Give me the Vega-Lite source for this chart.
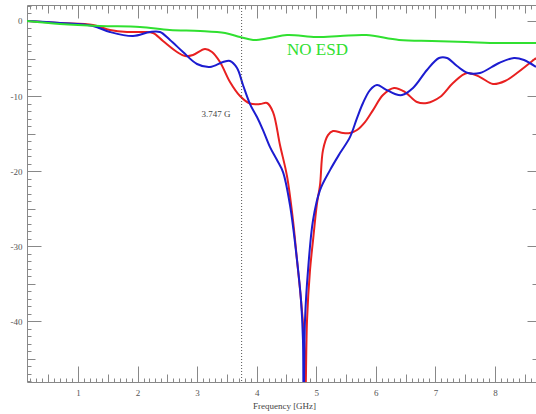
{
  "$schema": "https://vega.github.io/schema/vega-lite/v6.json",
  "width": 509,
  "height": 377,
  "autosize": {"type": "none"},
  "padding": {"left": 27, "top": 5, "right": 0, "bottom": 32},
  "background": "white",
  "datasets": {
    "curves": [
      {"series": "ESD 1", "freq": 0.144, "db": 0},
      {"series": "ESD 1", "freq": 0.698, "db": -0.27},
      {"series": "ESD 1", "freq": 1.252, "db": -0.53},
      {"series": "ESD 1", "freq": 1.538, "db": -1.2},
      {"series": "ESD 1", "freq": 1.823, "db": -1.47},
      {"series": "ESD 1", "freq": 2.092, "db": -1.47},
      {"series": "ESD 1", "freq": 2.26, "db": -1.6},
      {"series": "ESD 1", "freq": 2.427, "db": -2.67},
      {"series": "ESD 1", "freq": 2.662, "db": -4.13},
      {"series": "ESD 1", "freq": 2.797, "db": -4.67},
      {"series": "ESD 1", "freq": 2.931, "db": -4.53},
      {"series": "ESD 1", "freq": 3.132, "db": -3.73},
      {"series": "ESD 1", "freq": 3.25, "db": -4.13},
      {"series": "ESD 1", "freq": 3.384, "db": -5.47},
      {"series": "ESD 1", "freq": 3.552, "db": -8.13},
      {"series": "ESD 1", "freq": 3.72, "db": -10.0},
      {"series": "ESD 1", "freq": 3.888, "db": -11.0},
      {"series": "ESD 1", "freq": 4.056, "db": -11.07},
      {"series": "ESD 1", "freq": 4.173, "db": -10.93},
      {"series": "ESD 1", "freq": 4.274, "db": -12.13},
      {"series": "ESD 1", "freq": 4.391, "db": -16.53},
      {"series": "ESD 1", "freq": 4.509, "db": -20.67},
      {"series": "ESD 1", "freq": 4.609, "db": -26.53},
      {"series": "ESD 1", "freq": 4.677, "db": -31.87},
      {"series": "ESD 1", "freq": 4.744, "db": -37.2},
      {"series": "ESD 1", "freq": 4.794, "db": -42.5},
      {"series": "ESD 1", "freq": 4.811, "db": -55},
      {"series": "ESD 1", "freq": 4.845, "db": -39.87},
      {"series": "ESD 1", "freq": 4.895, "db": -33.2},
      {"series": "ESD 1", "freq": 4.946, "db": -29.2},
      {"series": "ESD 1", "freq": 5.013, "db": -24.27},
      {"series": "ESD 1", "freq": 5.063, "db": -21.87},
      {"series": "ESD 1", "freq": 5.113, "db": -17.2},
      {"series": "ESD 1", "freq": 5.197, "db": -15.2},
      {"series": "ESD 1", "freq": 5.281, "db": -14.67},
      {"series": "ESD 1", "freq": 5.449, "db": -14.93},
      {"series": "ESD 1", "freq": 5.566, "db": -14.93},
      {"series": "ESD 1", "freq": 5.684, "db": -14.53},
      {"series": "ESD 1", "freq": 5.818, "db": -13.47},
      {"series": "ESD 1", "freq": 5.953, "db": -11.87},
      {"series": "ESD 1", "freq": 6.12, "db": -9.87},
      {"series": "ESD 1", "freq": 6.305, "db": -8.93},
      {"series": "ESD 1", "freq": 6.49, "db": -9.47},
      {"series": "ESD 1", "freq": 6.691, "db": -10.8},
      {"series": "ESD 1", "freq": 6.859, "db": -10.93},
      {"series": "ESD 1", "freq": 7.077, "db": -10.13},
      {"series": "ESD 1", "freq": 7.296, "db": -8.27},
      {"series": "ESD 1", "freq": 7.531, "db": -6.93},
      {"series": "ESD 1", "freq": 7.749, "db": -7.47},
      {"series": "ESD 1", "freq": 7.967, "db": -8.4},
      {"series": "ESD 1", "freq": 8.169, "db": -8.0},
      {"series": "ESD 1", "freq": 8.37, "db": -6.93},
      {"series": "ESD 1", "freq": 8.689, "db": -4.93},
      {"series": "ESD 2", "freq": 0.144, "db": 0},
      {"series": "ESD 2", "freq": 0.698, "db": -0.27},
      {"series": "ESD 2", "freq": 1.252, "db": -0.67},
      {"series": "ESD 2", "freq": 1.538, "db": -1.47},
      {"series": "ESD 2", "freq": 1.924, "db": -2.0},
      {"series": "ESD 2", "freq": 2.209, "db": -1.47},
      {"series": "ESD 2", "freq": 2.377, "db": -1.47},
      {"series": "ESD 2", "freq": 2.545, "db": -2.53},
      {"series": "ESD 2", "freq": 2.763, "db": -4.13},
      {"series": "ESD 2", "freq": 2.998, "db": -5.73},
      {"series": "ESD 2", "freq": 3.216, "db": -6.13},
      {"series": "ESD 2", "freq": 3.435, "db": -5.47},
      {"series": "ESD 2", "freq": 3.552, "db": -5.33},
      {"series": "ESD 2", "freq": 3.67, "db": -6.27},
      {"series": "ESD 2", "freq": 3.77, "db": -8.53},
      {"series": "ESD 2", "freq": 3.888, "db": -11.07},
      {"series": "ESD 2", "freq": 4.005, "db": -12.8},
      {"series": "ESD 2", "freq": 4.106, "db": -14.53},
      {"series": "ESD 2", "freq": 4.224, "db": -16.8},
      {"series": "ESD 2", "freq": 4.341, "db": -18.53},
      {"series": "ESD 2", "freq": 4.442, "db": -20.13},
      {"series": "ESD 2", "freq": 4.559, "db": -24.53},
      {"series": "ESD 2", "freq": 4.677, "db": -31.87},
      {"series": "ESD 2", "freq": 4.744, "db": -37.2},
      {"series": "ESD 2", "freq": 4.777, "db": -42.53},
      {"series": "ESD 2", "freq": 4.786, "db": -55},
      {"series": "ESD 2", "freq": 4.811, "db": -39.87},
      {"series": "ESD 2", "freq": 4.862, "db": -33.2},
      {"series": "ESD 2", "freq": 4.946, "db": -26.53},
      {"series": "ESD 2", "freq": 5.063, "db": -22.53},
      {"series": "ESD 2", "freq": 5.231, "db": -19.87},
      {"series": "ESD 2", "freq": 5.399, "db": -17.6},
      {"series": "ESD 2", "freq": 5.566, "db": -15.47},
      {"series": "ESD 2", "freq": 5.684, "db": -12.93},
      {"series": "ESD 2", "freq": 5.785, "db": -10.93},
      {"series": "ESD 2", "freq": 5.902, "db": -9.2},
      {"series": "ESD 2", "freq": 6.02, "db": -8.53},
      {"series": "ESD 2", "freq": 6.154, "db": -9.07},
      {"series": "ESD 2", "freq": 6.322, "db": -9.73},
      {"series": "ESD 2", "freq": 6.439, "db": -9.87},
      {"series": "ESD 2", "freq": 6.624, "db": -8.93},
      {"series": "ESD 2", "freq": 6.859, "db": -6.53},
      {"series": "ESD 2", "freq": 7.061, "db": -4.93},
      {"series": "ESD 2", "freq": 7.195, "db": -4.93},
      {"series": "ESD 2", "freq": 7.363, "db": -6.0},
      {"series": "ESD 2", "freq": 7.547, "db": -6.93},
      {"series": "ESD 2", "freq": 7.749, "db": -6.93},
      {"series": "ESD 2", "freq": 8.068, "db": -5.6},
      {"series": "ESD 2", "freq": 8.32, "db": -4.93},
      {"series": "ESD 2", "freq": 8.488, "db": -5.2},
      {"series": "ESD 2", "freq": 8.689, "db": -6.13},
      {"series": "NO ESD", "freq": 0.144, "db": 0},
      {"series": "NO ESD", "freq": 0.698, "db": -0.4},
      {"series": "NO ESD", "freq": 1.37, "db": -0.67},
      {"series": "NO ESD", "freq": 2.04, "db": -0.8},
      {"series": "NO ESD", "freq": 2.54, "db": -1.2},
      {"series": "NO ESD", "freq": 3.05, "db": -1.33},
      {"series": "NO ESD", "freq": 3.47, "db": -1.6},
      {"series": "NO ESD", "freq": 3.72, "db": -2.13},
      {"series": "NO ESD", "freq": 3.94, "db": -2.53},
      {"series": "NO ESD", "freq": 4.22, "db": -2.27},
      {"series": "NO ESD", "freq": 4.51, "db": -1.87},
      {"series": "NO ESD", "freq": 5.0, "db": -2.13},
      {"series": "NO ESD", "freq": 5.4, "db": -2.0},
      {"series": "NO ESD", "freq": 5.84, "db": -1.87},
      {"series": "NO ESD", "freq": 6.39, "db": -2.53},
      {"series": "NO ESD", "freq": 6.94, "db": -2.67},
      {"series": "NO ESD", "freq": 7.52, "db": -2.8},
      {"series": "NO ESD", "freq": 8.07, "db": -2.93},
      {"series": "NO ESD", "freq": 8.689, "db": -2.93}
    ],
    "notes": [
      {"kind": "marker", "freq": 3.747, "db": -12.4, "label": "3.747 G"},
      {"kind": "series", "freq": 5.02, "db": -3.87, "label": "NO ESD"}
    ]
  },
  "layer": [
    {
      "data": {"name": "curves"},
      "mark": {"type": "line", "interpolate": "catmull-rom", "strokeWidth": 2, "clip": true},
      "encoding": {
        "x": {
          "field": "freq", "type": "quantitative",
          "scale": {"domain": [0.144, 8.689], "nice": false, "zero": false},
          "axis": {
            "orient": "bottom",
            "values": [0.2,0.3,0.4,0.5,0.6,0.7,0.8,0.9,1,1.1,1.2,1.3,1.4,1.5,1.6,1.7,1.8,1.9,2,2.1,2.2,2.3,2.4,2.5,2.6,2.7,2.8,2.9,3,3.1,3.2,3.3,3.4,3.5,3.6,3.7,3.8,3.9,4,4.1,4.2,4.3,4.4,4.5,4.6,4.7,4.8,4.9,5,5.1,5.2,5.3,5.4,5.5,5.6,5.7,5.8,5.9,6,6.1,6.2,6.3,6.4,6.5,6.6,6.7,6.8,6.9,7,7.1,7.2,7.3,7.4,7.5,7.6,7.7,7.8,7.9,8,8.1,8.2,8.3,8.4,8.5,8.6],
            "tickSize": {"condition": [
              {"test": "abs(datum.value - round(datum.value)) < 0.01", "value": -16},
              {"test": "abs(datum.value * 2 - round(datum.value * 2)) < 0.01", "value": -8}
            ], "value": -4},
            "labelExpr": "abs(datum.value - round(datum.value)) < 0.01 ? '' + round(datum.value) : ''",
            "labelPadding": 22,
            "title": "Frequency [GHz]",
            "titlePadding": -8,
            "titleX": 257
          }
        },
        "y": {
          "field": "db", "type": "quantitative",
          "scale": {"domain": [-48.1, 2.13], "nice": false, "zero": false},
          "axis": {
            "orient": "left",
            "values": [2,1,0,-1,-2,-3,-4,-5,-6,-7,-8,-9,-10,-11,-12,-13,-14,-15,-16,-17,-18,-19,-20,-21,-22,-23,-24,-25,-26,-27,-28,-29,-30,-31,-32,-33,-34,-35,-36,-37,-38,-39,-40,-41,-42,-43,-44,-45,-46,-47,-48],
            "tickSize": {"condition": [
              {"test": "datum.value % 10 === 0", "value": -14},
              {"test": "datum.value % 5 === 0", "value": -8}
            ], "value": -4},
            "labelExpr": "datum.value % 10 === 0 ? '' + datum.value : ''",
            "labelPadding": 19,
            "title": null
          }
        },
        "color": {
          "field": "series", "type": "nominal",
          "scale": {"domain": ["ESD 1", "ESD 2", "NO ESD"], "range": ["#e82020", "#1c1cd0", "#30e030"]},
          "legend": null
        }
      }
    },
    {
      "data": {"name": "notes"},
      "transform": [{"filter": "datum.kind === 'marker'"}],
      "mark": {"type": "rule", "color": "#555555", "strokeWidth": 1, "strokeDash": [1, 2]},
      "encoding": {
        "x": {
          "field": "freq", "type": "quantitative",
          "axis": {
            "orient": "top",
            "values": [0.2,0.3,0.4,0.5,0.6,0.7,0.8,0.9,1,1.1,1.2,1.3,1.4,1.5,1.6,1.7,1.8,1.9,2,2.1,2.2,2.3,2.4,2.5,2.6,2.7,2.8,2.9,3,3.1,3.2,3.3,3.4,3.5,3.6,3.7,3.8,3.9,4,4.1,4.2,4.3,4.4,4.5,4.6,4.7,4.8,4.9,5,5.1,5.2,5.3,5.4,5.5,5.6,5.7,5.8,5.9,6,6.1,6.2,6.3,6.4,6.5,6.6,6.7,6.8,6.9,7,7.1,7.2,7.3,7.4,7.5,7.6,7.7,7.8,7.9,8,8.1,8.2,8.3,8.4,8.5,8.6],
            "tickSize": {"condition": [
              {"test": "abs(datum.value - round(datum.value)) < 0.01", "value": -13},
              {"test": "abs(datum.value * 2 - round(datum.value * 2)) < 0.01", "value": -8}
            ], "value": -4},
            "labels": false,
            "title": null
          }
        }
      }
    },
    {
      "data": {"name": "notes"},
      "transform": [{"filter": "datum.kind === 'marker'"}],
      "mark": {"type": "text", "align": "right", "baseline": "middle", "dx": -11, "font": "Liberation Serif", "fontSize": 9, "color": "#444444"},
      "encoding": {
        "x": {"field": "freq", "type": "quantitative", "axis": null},
        "y": {
          "field": "db", "type": "quantitative",
          "axis": {
            "orient": "right",
            "domain": false,
            "values": [0,-5,-10,-15,-20,-25,-30,-35,-40,-45],
            "tickSize": {"condition": {"test": "datum.value % 10 === 0", "value": -9}, "value": -4},
            "labels": false,
            "title": null
          }
        },
        "text": {"field": "label"}
      }
    },
    {
      "data": {"name": "notes"},
      "transform": [{"filter": "datum.kind === 'series'"}],
      "mark": {"type": "text", "align": "center", "baseline": "middle", "font": "Liberation Serif", "fontSize": 17, "color": "#30e030"},
      "encoding": {
        "x": {"field": "freq", "type": "quantitative", "axis": null},
        "y": {"field": "db", "type": "quantitative", "axis": null},
        "text": {"field": "label"}
      }
    }
  ],
  "resolve": {"axis": {"x": "independent", "y": "independent"}},
  "config": {
    "view": {"stroke": null},
    "axis": {
      "grid": false,
      "domainColor": "#888888",
      "tickColor": "#888888",
      "tickWidth": 1,
      "labelFont": "Liberation Serif",
      "labelFontSize": 9,
      "labelColor": "#555555",
      "labelOverlap": false,
      "labelFlush": false,
      "titleFont": "Liberation Serif",
      "titleFontSize": 9,
      "titleFontWeight": "normal",
      "titleColor": "#444444"
    }
  }
}
